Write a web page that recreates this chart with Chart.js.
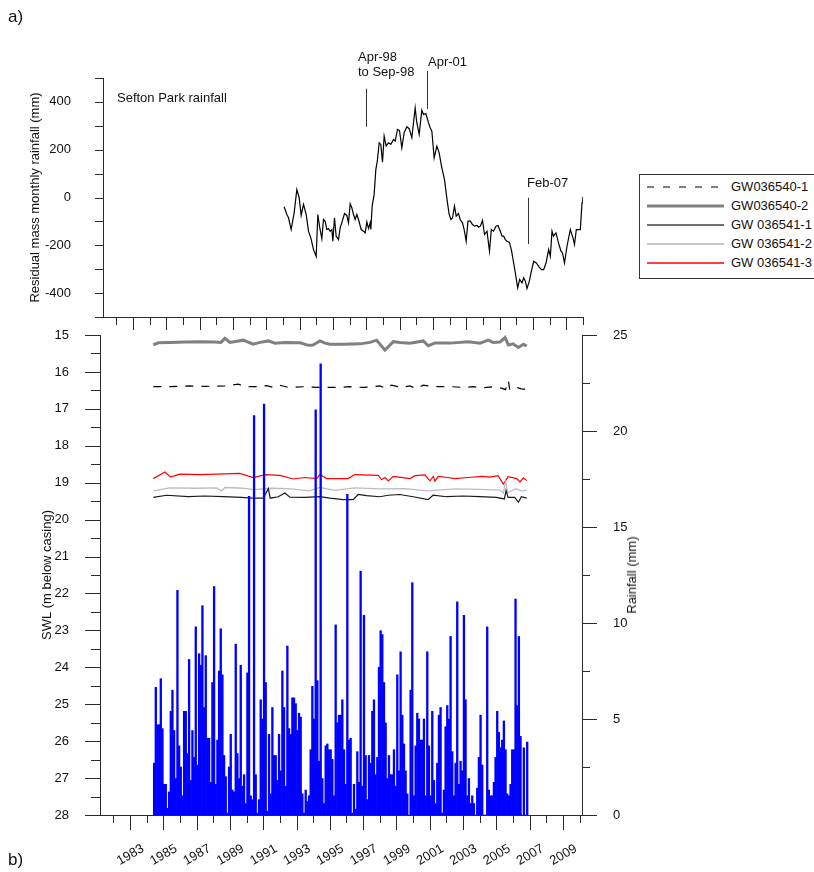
<!DOCTYPE html>
<html lang="en">
<head>
<meta charset="utf-8">
<title>Sefton Park rainfall and SWL</title>
<script src="https://cdn.jsdelivr.net/npm/chart.js@4.4.1/dist/chart.umd.min.js"></script>
<style>
  body { margin: 0; background: #fff; }
  #page { position: relative; width: 814px; height: 872px; overflow: hidden;
          font-family: "Liberation Sans", Arial, sans-serif; color: #111; }
  #page canvas { position: absolute; left: 0; top: 0; }
  .txt { position: absolute; font-size: 13px; line-height: 13px; white-space: nowrap; }
  .panel { position: absolute; font-size: 17px; line-height: 17px; }
  #rainTitle { position: absolute; left: 632px; top: 575px; font-size: 13px; line-height: 14px;
               white-space: nowrap; transform: translate(-50%, -50%) rotate(-90deg); }
  #legend { position: absolute; left: 639px; top: 174px; width: 220px; height: 103px;
            border: 1px solid #333; background: #fff; }
  #legend .row { position: absolute; left: 0; width: 220px; height: 14px; }
  #legend svg { position: absolute; left: 7px; top: 0; }
  #legend span { position: absolute; left: 91px; top: 0; font-size: 13px; line-height: 14px; white-space: nowrap; }
</style>
</head>
<body>
<div id="page">
  <canvas id="topChart" width="814" height="872"></canvas>
  <canvas id="bottomChart" width="814" height="872"></canvas>

  <div class="panel" style="left:8px; top:8px;">a)</div>
  <div class="panel" style="left:8px; top:851px;">b)</div>

  <div class="txt" style="left:117px; top:91px;">Sefton Park rainfall</div>
  <div class="txt" style="left:358px; top:50px;">Apr-98</div>
  <div class="txt" style="left:358px; top:65px;">to Sep-98</div>
  <div class="txt" style="left:428px; top:55px;">Apr-01</div>
  <div class="txt" style="left:527px; top:176px;">Feb-07</div>

  <div id="rainTitle">Rainfall (mm)</div>
  <div id="legend"></div>
</div>

<script>
// ---- a) residual mass monthly rainfall, Sefton Park (mm) ----
const topYears = [
  1992.07, 1992.23, 1992.33, 1992.49, 1992.67, 1992.83, 1992.97, 1993.09, 1993.23, 1993.39,
  1993.53, 1993.67, 1993.83, 1993.99, 1994.09, 1994.19, 1994.33, 1994.43, 1994.53, 1994.63,
  1994.73, 1994.83, 1994.93, 1994.99, 1995.09, 1995.19, 1995.33, 1995.43, 1995.53, 1995.69,
  1995.83, 1995.93, 1996.03, 1996.13, 1996.23, 1996.33, 1996.43, 1996.53, 1996.69, 1996.83,
  1996.93, 1997.03, 1997.13, 1997.23, 1997.27, 1997.35, 1997.47, 1997.57, 1997.67, 1997.77,
  1997.87, 1997.97, 1998.07, 1998.19, 1998.33, 1998.47, 1998.63, 1998.73, 1998.87, 1998.99,
  1999.13, 1999.27, 1999.43, 1999.57, 1999.73, 1999.93, 2000.03, 2000.17, 2000.33, 2000.43,
  2000.57, 2000.73, 2000.83, 2000.93, 2001.07, 2001.23, 2001.37, 2001.53, 2001.69, 2001.84,
  2001.97, 2002.08, 2002.17, 2002.29, 2002.39, 2002.53, 2002.63, 2002.77, 2002.87, 2002.99,
  2003.10, 2003.24, 2003.37, 2003.49, 2003.64, 2003.73, 2003.84, 2003.97, 2004.09, 2004.24,
  2004.39, 2004.50, 2004.63, 2004.78, 2004.90, 2005.04, 2005.14, 2005.24, 2005.34, 2005.44,
  2005.58, 2005.70, 2005.84, 2005.94, 2006.08, 2006.20, 2006.34, 2006.44, 2006.54, 2006.64,
  2006.78, 2006.90, 2007.04, 2007.20, 2007.34, 2007.50, 2007.64, 2007.78, 2007.94, 2008.04,
  2008.14, 2008.23, 2008.38, 2008.53, 2008.68, 2008.77, 2008.89, 2009.04, 2009.24, 2009.40,
  2009.49, 2009.60, 2009.73, 2009.84, 2009.94, 2009.99
];
const topResidual = [
  -39, -71, -85, -134, -63, 33, -1, -75, -29, -71,
  -141, -169, -218, -246, -71, -120, -173, -92, -100, -134,
  -130, -141, -134, -183, -85, -162, -176, -127, -105, -67,
  -75, -106, -26, -43, -71, -92, -71, -92, -134, -141,
  -148, -102, -130, -106, -134, -36, 13, 117, 159, 229,
  222, 148, 257, 215, 229, 222, 243, 236, 285, 280,
  208, 271, 296, 288, 250, 375, 313, 264, 365, 347,
  351, 313, 292, 278, 166, 215, 187, 124, 75, -8,
  -71, -92, -85, -36, -78, -67, -92, -106, -134, -183,
  -99, -99, -113, -120, -117, -124, -120, -96, -155, -141,
  -225, -134, -141, -120, -117, -141, -162, -162, -176, -183,
  -187, -218, -274, -316, -378, -343, -357, -336, -350, -381,
  -350, -309, -267, -274, -288, -302, -302, -274, -218, -246,
  -141, -162, -148, -190, -225, -232, -274, -204, -134, -169,
  -197, -134, -134, -134, -22, 3
];
const residualTicks = [-400, -200, 0, 200, 400];

// event markers (year, top and bottom of the marker line in mm)
const markYears = [1996.99, 2000.66, 2006.68];
const markFrom = [455, 529, -1];
const markTo = [296, 370, -195];

// ---- b) standing water level (m below casing) ----
const gw1Years = [1984.40, 1985.40, 1986.50, 1987.50, 1988.70, 1989.50, 1989.90, 1990.80, 1991.20, 1991.60,
  1992.00, 1992.50, 1993.50, 1994.40, 1995.50, 1996.20, 1997.00, 1997.60, 1998.00, 1998.40,
  1998.70, 1999.30, 1999.80, 2000.20, 2000.60, 2001.40, 2002.30, 2003.00, 2003.60, 2004.20,
  2004.80, 2005.30, 2005.55, 2005.72, 2005.80, 2006.20, 2006.50, 2006.82];
const gw1Swl = [16.40, 16.40, 16.38, 16.39, 16.38, 16.33, 16.40, 16.40, 16.37, 16.42,
  16.36, 16.42, 16.40, 16.42, 16.42, 16.40, 16.42, 16.40, 16.38, 16.45,
  16.36, 16.42, 16.38, 16.45, 16.36, 16.40, 16.40, 16.42, 16.40, 16.43,
  16.40, 16.44, 16.48, 16.24, 16.48, 16.42, 16.46, 16.48];

const gw2Years = [1984.40, 1984.70, 1985.40, 1986.30, 1987.20, 1988.10, 1988.46, 1988.70, 1989.00, 1989.80,
  1990.40, 1990.81, 1991.30, 1991.71, 1992.31, 1993.21, 1993.71, 1993.99, 1994.41, 1994.71,
  1995.01, 1995.91, 1996.81, 1997.41, 1997.81, 1998.31, 1998.81, 1999.21, 1999.81, 2000.61,
  2000.91, 2001.31, 2002.21, 2003.31, 2004.02, 2004.51, 2004.80, 2005.22, 2005.52, 2005.72,
  2006.00, 2006.32, 2006.62, 2006.82];
const gw2Swl = [15.27, 15.21, 15.20, 15.19, 15.18, 15.19, 15.20, 15.09, 15.20, 15.14,
  15.25, 15.20, 15.16, 15.22, 15.20, 15.21, 15.28, 15.27, 15.16, 15.22,
  15.25, 15.25, 15.24, 15.20, 15.14, 15.41, 15.18, 15.20, 15.22, 15.16,
  15.29, 15.22, 15.22, 15.18, 15.22, 15.14, 15.20, 15.19, 15.07, 15.27,
  15.24, 15.34, 15.25, 15.30];

const gw3Years = [1984.40, 1985.20, 1986.50, 1987.50, 1988.60, 1989.70, 1990.30, 1991.00, 1991.31, 1991.42,
  1991.90, 1992.30, 1992.60, 1993.50, 1994.40, 1995.00, 1995.80, 1996.40, 1996.70, 1997.20,
  1998.00, 1998.50, 1999.20, 2000.00, 2000.90, 2001.20, 2002.00, 2003.00, 2004.00, 2005.00,
  2005.48, 2005.58, 2005.70, 2006.10, 2006.32, 2006.50, 2006.82];
const gw3Swl = [19.40, 19.34, 19.38, 19.36, 19.38, 19.40, 19.42, 19.42, 19.16, 19.42,
  19.38, 19.28, 19.39, 19.40, 19.38, 19.42, 19.46, 19.46, 19.32, 19.35,
  19.38, 19.34, 19.32, 19.38, 19.46, 19.34, 19.38, 19.36, 19.38, 19.40,
  19.44, 19.21, 19.40, 19.40, 19.53, 19.38, 19.42];

const gw4Years = [1984.40, 1985.40, 1987.00, 1988.20, 1988.50, 1988.70, 1989.80, 1990.40, 1991.50, 1992.50,
  1993.80, 1994.40, 1995.30, 1996.50, 1998.00, 1999.50, 2000.90, 2002.50, 2004.00, 2005.20,
  2005.42, 2005.55, 2005.68, 2006.20, 2006.50, 2006.82];
const gw4Swl = [19.22, 19.14, 19.15, 19.14, 19.22, 19.13, 19.15, 19.19, 19.15, 19.16,
  19.22, 19.13, 19.21, 19.14, 19.17, 19.16, 19.22, 19.17, 19.18, 19.20,
  19.28, 18.96, 19.27, 19.16, 19.22, 19.20];

const gw5Years = [1984.40, 1985.10, 1985.44, 1986.00, 1987.20, 1989.60, 1990.40, 1991.11, 1992.01, 1992.81,
  1993.51, 1994.21, 1994.41, 1994.81, 1995.31, 1996.09, 1996.51, 1997.91, 1998.11, 1998.31,
  1998.51, 1998.81, 1999.81, 2000.11, 2000.71, 2001.01, 2001.21, 2001.31, 2001.51, 2002.09,
  2002.51, 2003.30, 2004.14, 2004.62, 2005.10, 2005.42, 2005.70, 2006.22, 2006.42, 2006.62,
  2006.82];
const gw5Swl = [18.89, 18.71, 18.85, 18.77, 18.78, 18.75, 18.86, 18.78, 18.80, 18.90,
  18.86, 18.89, 18.78, 18.89, 18.89, 18.89, 18.78, 18.80, 18.92, 18.86,
  18.95, 18.83, 18.89, 18.81, 18.79, 18.95, 18.83, 18.96, 18.83, 18.86,
  18.89, 18.86, 18.83, 18.85, 18.81, 19.04, 18.84, 18.89, 18.98, 18.87,
  18.94];

// rainfall (mm), one bar every 0.1 year from rainStart
const rainStart = 1984.45;
const rainStep = 0.1;
const rainMm = [
  2.7, 6.65, 4.7, 4.7, 7.1, 4.5, 1.6, 1.6, 0.35, 1.2,
  5.4, 6.5, 4.4, 1.9, 11.7, 3.6, 2.5, 1.0, 5.4, 5.4,
  3.2, 8.1, 1.8, 4.4, 3.0, 9.8, 2.6, 8.4, 7.8, 10.9,
  5.6, 8.3, 4.0, 4.0, 1.7, 6.9, 11.9, 1.6, 3.9, 7.5,
  9.7, 7.3, 3.1, 2.0, 0.1, 2.5, 4.2, 1.3, 1.2, 8.9,
  3.2, 1.9, 7.8, 1.5, 2.1, 0.6, 7.4, 16.6, 1.0, 0.8,
  20.8, 2.1, 0.1, 0.8, 6.0, 5.0, 21.4, 6.9, 0.2, 4.2,
  1.1, 5.6, 3.1, 3.1, 1.8, 4.2, 2.3, 7.5, 5.6, 1.5,
  8.8, 4.5, 4.2, 6.1, 6.1, 5.8, 4.4, 5.3, 5.1, 1.1,
  0.1, 1.3, 0.7, 1.0, 3.4, 6.7, 5.0, 21.1, 7.0, 2.8,
  23.5, 1.9, 0.6, 3.6, 3.7, 3.4, 3.4, 2.9, 1.0, 9.9,
  4.8, 5.2, 5.2, 6.0, 3.4, 1.6, 16.7, 3.9, 4.0, 0.1,
  1.6, 0.3, 3.3, 1.7, 12.7, 1.5, 10.4, 3.1, 0.8, 3.1,
  2.7, 5.4, 6.0, 2.1, 3.0, 7.7, 9.6, 9.4, 6.9, 4.8,
  1.9, 3.1, 2.1, 2.1, 3.4, 1.5, 7.3, 2.3, 8.5, 5.2,
  3.7, 2.3, 1.1, 0, 6.5, 12.1, 1.0, 3.6, 5.3, 5.0,
  3.9, 3.9, 5.0, 1.0, 8.5, 3.6, 1.0, 5.4, 1.8, 0.6,
  2.7, 5.2, 5.6, 0.1, 1.3, 4.6, 5.7, 5.0, 9.3, 3.3,
  1.0, 2.7, 11.1, 1.6, 2.8, 2.3, 10.4, 6.0, 1.0, 1.9,
  0.6, 1.0, 0.6, 0, 1.4, 3.0, 5.2, 2.6, 0, 0,
  9.8, 1.3, 1.0, 1.0, 1.7, 3.0, 5.4, 4.3, 3.5, 3.9,
  4.9, 3.4, 1.1, 1.0, 1.6, 3.4, 3.4, 11.25, 5.7, 9.3,
  4.1, 0, 3.5, 0, 3.8
];

const yearLabels = [1983, 1985, 1987, 1989, 1991, 1993, 1995, 1997, 1999, 2001, 2003, 2005, 2007, 2009];
const swlTicks = [15, 16, 17, 18, 19, 20, 21, 22, 23, 24, 25, 26, 27, 28];
const rainTicks = [0, 5, 10, 15, 20, 25];

const gwSeries = [
  { name: 'GW036540-1', years: gw1Years, swl: gw1Swl, color: '#000000', width: 1.2, dash: [8, 8], legendDash: '7 9' },
  { name: 'GW036540-2', years: gw2Years, swl: gw2Swl, color: '#808080', width: 3 },
  { name: 'GW 036541-1', years: gw3Years, swl: gw3Swl, color: '#1a1a1a', width: 1.2, legendColor: '#707070', legendWidth: 2 },
  { name: 'GW 036541-2', years: gw4Years, swl: gw4Swl, color: '#bdbdbd', width: 1.3, legendColor: '#c8c8c8', legendWidth: 2 },
  { name: 'GW 036541-3', years: gw5Years, swl: gw5Swl, color: '#ff0000', width: 1.2, legendWidth: 1.5 }
];

const AXIS_COLOR = '#2a2a2a';
const FONT = { family: '"Liberation Sans", Arial, sans-serif', size: 13 };

Chart.defaults.font.family = FONT.family;
Chart.defaults.font.size = FONT.size;
Chart.defaults.color = '#111';

function steps(from, to, step) {
  const out = [];
  for (let v = from; v <= to + 1e-9; v += step) out.push(Math.round(v * 100) / 100);
  return out;
}

// draws tick marks with own lengths (major/minor) on the library's scales
const tickMarks = {
  id: 'tickMarks',
  afterDraw(chart, args, opts) {
    const ctx = chart.ctx;
    ctx.save();
    ctx.strokeStyle = AXIS_COLOR;
    ctx.lineWidth = 1;
    (opts.sets || []).forEach(set => {
      const scale = chart.scales[set.axis];
      set.values.forEach(v => {
        const p = Math.round(scale.getPixelForValue(v)) + 0.5;
        ctx.beginPath();
        if (scale.isHorizontal()) {
          ctx.moveTo(p, scale.top);
          ctx.lineTo(p, scale.top + set.len);
        } else if (scale.position === 'left') {
          ctx.moveTo(scale.right, p);
          ctx.lineTo(scale.right - set.len, p);
        } else {
          ctx.moveTo(scale.left, p);
          ctx.lineTo(scale.left + set.len, p);
        }
        ctx.stroke();
      });
    });
    ctx.restore();
  }
};

// vertical event markers on the rainfall panel
const markers = {
  id: 'markers',
  afterDraw(chart) {
    const ctx = chart.ctx;
    const x = chart.scales.x, y = chart.scales.y;
    ctx.save();
    ctx.strokeStyle = '#333';
    ctx.lineWidth = 1;
    markYears.forEach((yr, i) => {
      const px = Math.round(x.getPixelForValue(yr)) + 0.5;
      ctx.beginPath();
      ctx.moveTo(px, y.getPixelForValue(markFrom[i]));
      ctx.lineTo(px, y.getPixelForValue(markTo[i]));
      ctx.stroke();
    });
    ctx.restore();
  }
};

function fixWidth(w) {
  return scale => { scale.width = w; scale.paddingTop = 0; scale.paddingBottom = 0; };
}
function fixHeight(h) {
  return scale => { scale.height = h; scale.paddingLeft = 0; scale.paddingRight = 0; };
}
function setTicks(values) {
  return scale => { scale.ticks = values.map(v => ({ value: v })); };
}

// ---- top chart ----
new Chart(document.getElementById('topChart'), {
  type: 'line',
  data: {
    datasets: [{
      data: topYears.map((x, i) => ({ x: x, y: topResidual[i] })),
      borderColor: '#000',
      borderWidth: 1.2,
      pointRadius: 0,
      tension: 0
    }]
  },
  options: {
    responsive: false,
    animation: false,
    devicePixelRatio: 1,
    layout: { autoPadding: false, padding: { left: 24, top: 78, right: 231, bottom: 540 } },
    plugins: {
      legend: { display: false },
      tooltip: { enabled: false },
      tickMarks: {
        sets: [
          { axis: 'x', values: yearLabels, len: 13 },
          { axis: 'x', values: steps(1982, 2010, 2), len: 8 },
          { axis: 'y', values: steps(-500, 500, 100), len: 8 }
        ]
      }
    },
    scales: {
      x: {
        type: 'linear', min: 1981.2, max: 2010,
        grid: { display: false },
        border: { color: AXIS_COLOR },
        ticks: { display: false },
        afterFit: fixHeight(15)
      },
      y: {
        min: -500, max: 500,
        grid: { display: false },
        border: { color: AXIS_COLOR },
        ticks: { padding: 24, callback: v => String(v) },
        afterBuildTicks: setTicks(residualTicks),
        title: { display: true, text: 'Residual mass monthly rainfall (mm)', padding: { top: 4, bottom: 0 } },
        afterFit: fixWidth(79)
      }
    }
  },
  plugins: [tickMarks, markers]
});

// ---- bottom chart ----
const bottomDatasets = [{
  type: 'bar',
  data: rainMm.map((v, i) => ({ x: rainStart + i * rainStep, y: v })),
  yAxisID: 'yR',
  backgroundColor: '#0000ff',
  borderWidth: 0,
  barPercentage: 1,
  categoryPercentage: 1,
  order: 0
}];
gwSeries.forEach((s, i) => {
  bottomDatasets.push({
    type: 'line',
    data: s.years.map((x, j) => ({ x: x, y: s.swl[j] })),
    yAxisID: 'y',
    borderColor: s.color,
    borderWidth: s.width,
    borderDash: s.dash || [],
    pointRadius: 0,
    tension: 0,
    order: i + 1
  });
});

new Chart(document.getElementById('bottomChart'), {
  type: 'bar',
  data: { datasets: bottomDatasets },
  options: {
    responsive: false,
    animation: false,
    devicePixelRatio: 1,
    layout: { autoPadding: false, padding: { left: 36, top: 335, right: 172, bottom: 7 } },
    plugins: {
      legend: { display: false },
      tooltip: { enabled: false },
      tickMarks: {
        sets: [
          { axis: 'x', values: yearLabels, len: 15 },
          { axis: 'x', values: steps(1982, 2010, 2), len: 8 },
          { axis: 'y', values: swlTicks, len: 15 },
          { axis: 'y', values: steps(15.5, 27.5, 1), len: 9 },
          { axis: 'yR', values: rainTicks, len: 15 },
          { axis: 'yR', values: steps(2.5, 22.5, 5), len: 8 }
        ]
      }
    },
    scales: {
      x: {
        type: 'linear', min: 1981.2, max: 2010.14, offset: false,
        grid: { display: false },
        border: { color: AXIS_COLOR },
        ticks: { autoSkip: false, minRotation: 30, maxRotation: 30, padding: 18, labelOffset: 13, callback: v => String(v) },
        afterBuildTicks: setTicks(yearLabels),
        afterFit: fixHeight(50)
      },
      y: {
        position: 'left', reverse: true, min: 15, max: 28,
        grid: { display: false },
        border: { color: AXIS_COLOR },
        ticks: { padding: 23, callback: v => String(v) },
        afterBuildTicks: setTicks(swlTicks),
        title: { display: true, text: 'SWL (m below casing)', padding: { top: 4, bottom: 0 } },
        afterFit: fixWidth(64)
      },
      yR: {
        position: 'right', min: 0, max: 25,
        grid: { display: false },
        border: { color: AXIS_COLOR },
        ticks: { padding: 23, callback: v => String(v) },
        afterBuildTicks: setTicks(rainTicks),
        afterFit: fixWidth(60)
      }
    }
  },
  plugins: [tickMarks]
});

// ---- legend ----
const legendBox = document.getElementById('legend');
gwSeries.forEach((s, i) => {
  const row = document.createElement('div');
  row.className = 'row';
  row.style.top = (5.3 + i * 18.85) + 'px';
  const dash = s.legendDash ? ` stroke-dasharray="${s.legendDash}"` : '';
  row.innerHTML =
    `<svg width="77" height="14"><line x1="0" y1="7" x2="77" y2="7" stroke="${s.legendColor || s.color}" ` +
    `stroke-width="${s.legendWidth || s.width}"${dash}/></svg><span>${s.name}</span>`;
  legendBox.appendChild(row);
});
</script>
</body>
</html>
